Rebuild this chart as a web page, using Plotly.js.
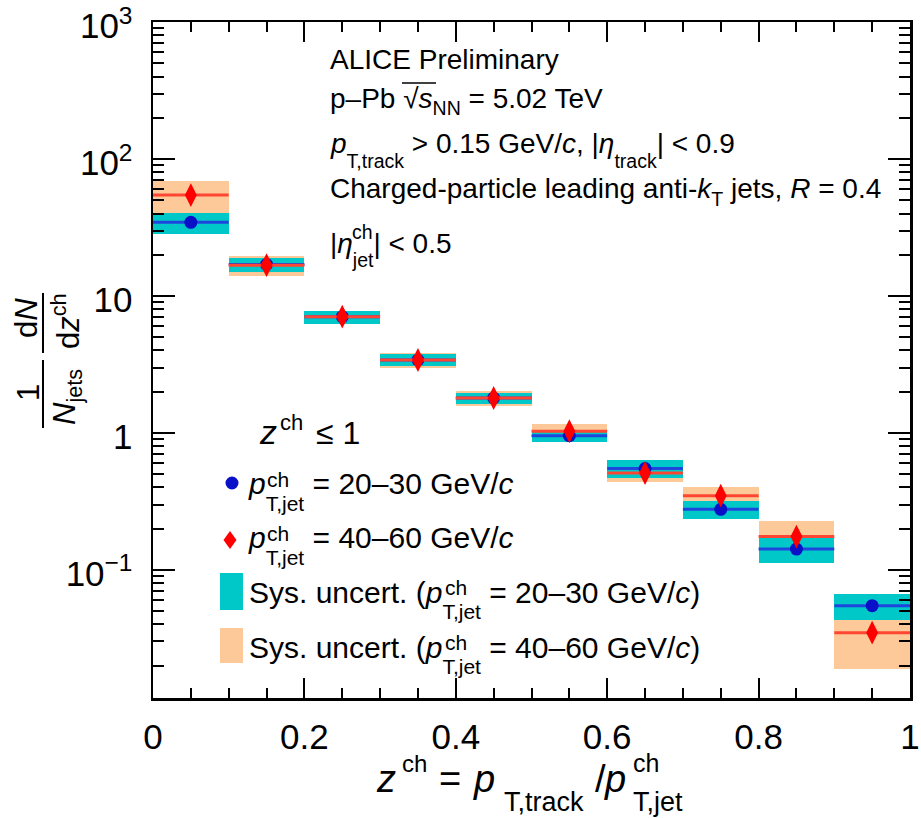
<!DOCTYPE html>
<html>
<head>
<meta charset="utf-8">
<script src="https://cdn.plot.ly/plotly-3.0.1.min.js"></script>
<style>html,body{margin:0;padding:0;background:#fff;}#chart{width:921px;height:818px;}</style>
</head>
<body>
<div id="chart"></div>
<script>
// ---- data ----
const zCenters = [0.05, 0.15, 0.25, 0.35, 0.45, 0.55, 0.65, 0.75, 0.85, 0.95];
const zHalfBin = [0.05, 0.05, 0.05, 0.05, 0.05, 0.05, 0.05, 0.05, 0.05, 0.05];
// pT,jet ch = 20-30 GeV/c
const yLow   = [34.5, 17.0, 7.06, 3.41, 1.80, 0.955, 0.55, 0.277, 0.142, 0.0548];
const sysLow = [6.1, 2.0, 0.77, 0.35, 0.17, 0.095, 0.08, 0.042, 0.030, 0.012];
// pT,jet ch = 40-60 GeV/c
const yHigh   = [54.6, 16.8, 7.06, 3.41, 1.80, 1.03, 0.51, 0.348, 0.175, 0.0348];
const sysHigh = [15.0, 2.8, 0.75, 0.45, 0.22, 0.13, 0.075, 0.057, 0.053, 0.016];
// axis ticks
const xTickVals = [0, 0.2, 0.4, 0.6, 0.8, 1];
const xTickText = ['0', '0.2', '0.4', '0.6', '0.8', '1'];
const yTickVals = [0.1, 1, 10, 100, 1000];
const yTickText = ['10<sup>\u22121</sup>', '1', '10', '10<sup>2</sup>', '10<sup>3</sup>'];

const yMinorVals = [];
for (let d = -2; d <= 2; d++) for (let k = 2; k <= 9; k++) yMinorVals.push(k * Math.pow(10, d));

// ---- styling ----
const FONT = 'Liberation Sans, Arial, Helvetica, sans-serif';
const CYAN = '#00c8c8', ORANGE = '#fdc999';
const BLUE = '#0a10c8', BLUELINE = '#1e46dc', RED = '#ff0000', REDLINE = '#ff4632';

const traces = [
  { type: 'bar', x: zCenters, base: yHigh.map((v, i) => v - sysHigh[i]), y: sysHigh.map(s => 2 * s),
    width: zHalfBin.map(h => 2 * h), marker: { color: ORANGE, line: { width: 0 } }, showlegend: false, hoverinfo: 'skip' },
  { type: 'bar', x: zCenters, base: yLow.map((v, i) => v - sysLow[i]), y: sysLow.map(s => 2 * s),
    width: zHalfBin.map(h => 2 * h), marker: { color: CYAN, line: { width: 0 } }, showlegend: false, hoverinfo: 'skip' },
  { type: 'scatter', mode: 'markers', x: zCenters, y: yLow,
    error_x: { type: 'data', array: zHalfBin, symmetric: true, width: 0, thickness: 3, color: BLUELINE },
    marker: { symbol: 'circle', size: 13, color: BLUE }, showlegend: false },
  { type: 'scatter', mode: 'markers', x: zCenters, y: yHigh,
    error_x: { type: 'data', array: zHalfBin, symmetric: true, width: 0, thickness: 3, color: REDLINE },
    marker: { symbol: 'diamond-tall', size: 17, color: RED }, showlegend: false }
];

// pixel -> paper helpers
const L = 153, R = 910, T = 22, B = 698, W = R - L, H = B - T;
const px = x => (x - L) / W, py = y => (B - y) / H;
const ASC = 0.905;
// annotation positioned by its left edge and text baseline (pixels)
function annB(text, x, base, size, xa) {
  return { text: text, xref: 'paper', yref: 'paper', x: px(x), y: py(base - ASC * size - 1),
    xanchor: xa || 'left', yanchor: 'top', showarrow: false, borderpad: 0,
    font: { family: FONT, size: size, color: '#000' } };
}
function annC(text, x, y, size, angle) {
  return { text: text, xref: 'paper', yref: 'paper', x: px(x), y: py(y), xanchor: 'center', yanchor: 'middle',
    showarrow: false, borderpad: 0, textangle: angle || 0, font: { family: FONT, size: size, color: '#000' } };
}
const S = (t, size, shift) => `<span style="font-size:${size}px;baseline-shift:-${shift}px">${t}</span>`;

const tb = 28, tbs = 19.5; // text block sizes
const lg = 30, lgs = 21;   // legend sizes
const annotations = [
  annB('ALICE Preliminary', 329, 69, tb),
  annB('p\u2013Pb \u221A<i>s</i>' + S('NN', tbs, 7) + ' = 5.02 TeV', 329, 108, tb),
  annB('<i>p</i>' + S('T,track', tbs, 15) + ' > 0.15 GeV/<i>c</i>, |<i>\u03B7</i>' + S('track', tbs, 15) + '| < 0.9', 329, 153, tb),
  annB('Charged-particle leading anti-<i>k</i>' + S('T', tbs, 8) + ' jets, <i>R</i> = 0.4', 329, 198, tb),
  annB('|<i>\u03B7</i>' + S('jet', tbs, 14) + '| < 0.5', 329, 253, tb),
  annB('ch', 351, 239, tbs),
  // legend
  annB('<i>z</i>', 258, 444, 34),
  annB('ch', 279, 430, 22),
  annB('\u2264 1', 315, 444, 32),
  annB('<i>p</i>' + S('T,jet', lgs, 17) + ' = 20\u201330 GeV/<i>c</i>', 247, 494, lg),
  annB('ch', 266, 487, lgs),
  annB('<i>p</i>' + S('T,jet', lgs, 17) + ' = 40\u201360 GeV/<i>c</i>', 247, 548, lg),
  annB('ch', 266, 541, lgs),
  annB('Sys. uncert. (<i>p</i>' + S('T,jet', lgs, 16) + ' = 20\u201330 GeV/<i>c</i>)', 248, 603, lg),
  annB('ch', 444, 595, lgs),
  annB('Sys. uncert. (<i>p</i>' + S('T,jet', lgs, 16) + ' = 40\u201360 GeV/<i>c</i>)', 248, 658, lg),
  annB('ch', 444, 650, lgs),
  // x-axis title
  annB('<i>z</i>', 375, 792, 38),
  annB('ch', 401, 772, 24),
  annB('=', 438, 792, 38),
  annB('<i>p</i>', 472, 792, 38),
  annB('T,track', 503, 811, 27),
  annB('/', 594, 792, 38),
  annB('<i>p</i>', 603, 792, 38),
  annB('ch', 632, 772, 25),
  annB('T,jet', 632, 811, 27),
  // y-axis title (rotated)
  annC('1', 28, 393, 31, -90),
  annC('<i>N</i><sub>jets</sub>', 67, 397, 31, -90),
  annC('d<i>N</i>', 26, 318, 31, -90),
  annC('d<i>z</i><sup>ch</sup>', 66, 321, 31, -90)
];

const shapes = [
  // fraction bars of the y title
  { type: 'line', xref: 'paper', yref: 'paper', x0: px(43), x1: px(43), y0: py(360), y1: py(428), line: { color: '#000', width: 2 } },
  { type: 'line', xref: 'paper', yref: 'paper', x0: px(43), x1: px(43), y0: py(293), y1: py(353), line: { color: '#000', width: 2 } },
  // radical bar over s_NN
  { type: 'line', xref: 'paper', yref: 'paper', x0: px(402), x1: px(436), y0: py(83), y1: py(83), line: { color: '#000', width: 1.5 } },
  // legend keys
  { type: 'circle', xref: 'paper', yref: 'paper', x0: px(225.5), x1: px(238.5), y0: py(489.5), y1: py(476.5), fillcolor: BLUE, line: { width: 0 } },
  { type: 'path', xref: 'paper', yref: 'paper',
    path: `M${px(230)},${py(531)} L${px(236.5)},${py(540)} L${px(230)},${py(549)} L${px(223.5)},${py(540)} Z`, fillcolor: RED, line: { width: 0 } },
  { type: 'rect', xref: 'paper', yref: 'paper', x0: px(220), x1: px(243), y0: py(610), y1: py(573), fillcolor: CYAN, line: { width: 0 } },
  { type: 'rect', xref: 'paper', yref: 'paper', x0: px(220), x1: px(243), y0: py(663), y1: py(628), fillcolor: ORANGE, line: { width: 0 } }
];

const axisCommon = { showline: true, linecolor: '#000', linewidth: 2.5, mirror: 'allticks', ticks: 'inside',
  tickcolor: '#000', tickwidth: 2, showgrid: false, zeroline: false, ticklabeloverflow: 'allow' };

const layout = {
  width: 921, height: 818,
  margin: { l: L, r: 921 - R, t: T, b: 818 - B, pad: 0 },
  paper_bgcolor: '#fff', plot_bgcolor: '#fff',
  barmode: 'overlay', bargap: 0,
  showlegend: false,
  font: { family: FONT, color: '#000' },
  xaxis: Object.assign({}, axisCommon, {
    range: [0, 1], tickmode: 'array', tickvals: xTickVals, ticktext: xTickText, ticklen: 20,
    tickfont: { family: FONT, size: 35 }, ticklabelstandoff: 6,
    minor: { dtick: 0.05, tick0: 0, ticks: 'inside', ticklen: 10, tickwidth: 2, tickcolor: '#000' }
  }),
  yaxis: Object.assign({}, axisCommon, {
    type: 'log', range: [Math.log10(0.0116), 3.0008], tickmode: 'array', tickvals: yTickVals, ticktext: yTickText, ticklen: 22,
    tickfont: { family: FONT, size: 35 }, ticklabelstandoff: 11, ticklabelshift: 4,
    minor: { tickmode: 'array', tickvals: yMinorVals, ticks: 'inside', ticklen: 11, tickwidth: 2, tickcolor: '#000' }
  }),
  annotations: annotations,
  shapes: shapes
};

Plotly.newPlot('chart', traces, layout, { staticPlot: true, displayModeBar: false });
</script>
</body>
</html>
